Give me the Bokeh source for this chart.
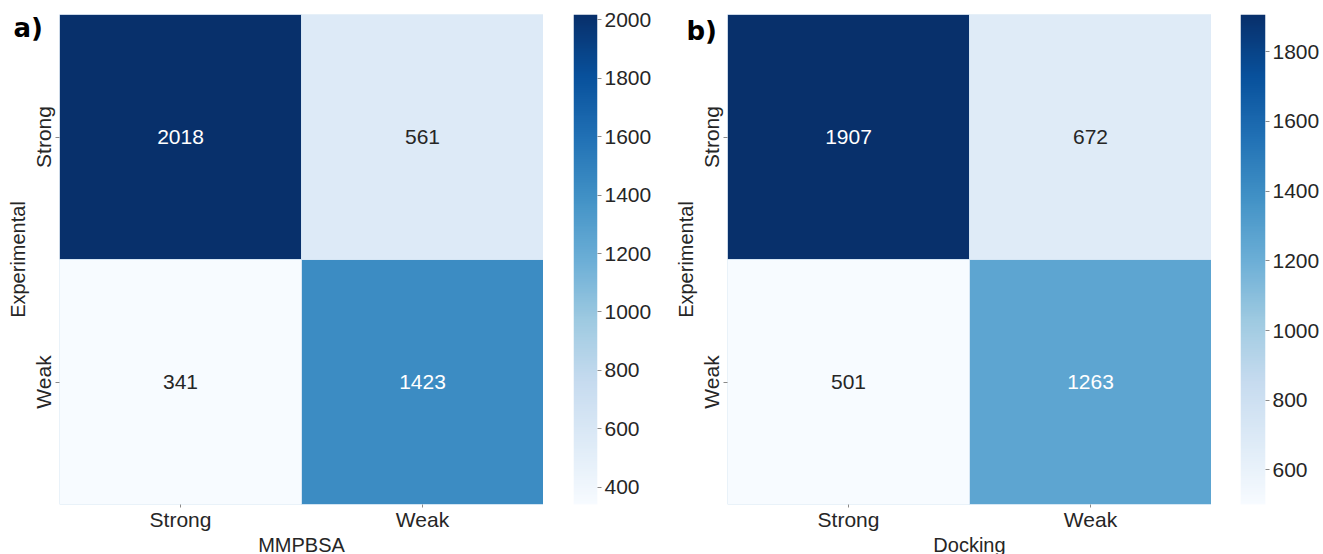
import numpy as np
from bokeh.plotting import figure
from bokeh.layouts import row
from bokeh.models import ColumnDataSource, LinearColorMapper, FixedTicker, Range1d, FactorRange, Title
from bokeh.palettes import Blues256
from bokeh.core.properties import value
from bokeh.embed import file_html
from bokeh.resources import INLINE

# ---- data ----
pred_cats = ["Strong", "Weak"]          # predicted (columns)
exp_cats = ["Strong", "Weak"]           # experimental (rows, top to bottom)
mmpbsa_values = [[2018, 561], [341, 1423]]
docking_values = [[1907, 672], [501, 1263]]
mmpbsa_ticks = [400, 600, 800, 1000, 1200, 1400, 1600, 1800, 2000]
docking_ticks = [600, 800, 1000, 1200, 1400, 1600, 1800]
panel_labels = ["a)", "b)"]
x_titles = ["MMPBSA", "Docking"]
y_title = "Experimental"

FONT = "Liberation Sans"
TXT = "#262626"
TICK = "#8a8a8a"
FS = "21px"
FS_LAB = "20px"
palette = list(reversed(Blues256))
H = 554
FH = 490


def style_axis(ax):
    ax.axis_line_color = None
    ax.major_tick_in = 0
    ax.major_tick_out = 4
    ax.major_tick_line_color = TICK
    ax.minor_tick_line_color = None
    ax.major_label_text_font = FONT
    ax.major_label_text_font_size = FS
    ax.major_label_text_color = TXT
    ax.axis_label_text_font = FONT
    ax.axis_label_text_font_size = FS_LAB
    ax.axis_label_text_color = TXT
    ax.axis_label_text_font_style = "normal"


def heatmap(values, xtitle, plabel, top, left, tag_offset, tag_standoff):
    vals = np.array(values)
    vmin, vmax = vals.min(), vals.max()
    mapper = LinearColorMapper(palette=palette, low=vmin, high=vmax)
    xs, ys, vs, tc = [], [], [], []
    for i, e in enumerate(exp_cats):
        for j, pc in enumerate(pred_cats):
            v = values[i][j]
            xs.append(pc)
            ys.append(e)
            vs.append(v)
            tc.append("white" if (v - vmin) / (vmax - vmin) > 0.5 else TXT)
    src = ColumnDataSource(dict(x=xs, y=ys, v=vs, t=[str(v) for v in vs], tc=tc))
    p = figure(x_range=FactorRange(*pred_cats), y_range=FactorRange(*reversed(exp_cats)),
               frame_width=484, frame_height=FH,
               min_border_left=left, min_border_right=0,
               min_border_top=top, min_border_bottom=H - FH - top,
               output_backend="svg", toolbar_location=None)
    p.rect(x="x", y="y", width=1, height=1, source=src,
           fill_color={"field": "v", "transform": mapper},
           line_color="#d6e6f4", line_width=1)
    p.text(x="x", y="y", text="t", source=src, text_color="tc",
           text_align="center", text_baseline="middle",
           text_font=value(FONT), text_font_size="21px")
    p.grid.visible = False
    p.outline_line_color = None
    p.xaxis.axis_label = xtitle
    p.yaxis.axis_label = y_title
    style_axis(p.xaxis[0])
    style_axis(p.yaxis[0])
    p.xaxis.major_tick_out = 3
    p.xaxis.major_label_standoff = 0
    p.xaxis.axis_label_standoff = 0
    p.yaxis.major_label_standoff = 1
    p.yaxis.axis_label_standoff = 0
    p.yaxis.major_label_orientation = "vertical"
    # panel tag drawn as a title whose negative standoff keeps it out of the layout
    p.title = Title(text=plabel, align="left", offset=tag_offset, standoff=tag_standoff,
                    vertical_align="bottom", text_font="DejaVu Sans",
                    text_font_style="bold", text_font_size="26px", text_color="black")
    return p, mapper, vmin, vmax


def cbar(mapper, vmin, vmax, ticks, top, left, fw, right):
    c = figure(x_range=Range1d(0, 1), y_range=Range1d(vmin, vmax),
               frame_width=fw, frame_height=FH,
               min_border_left=left, min_border_right=right,
               min_border_top=top, min_border_bottom=H - FH - top,
               y_axis_location="right",
               output_backend="svg", toolbar_location=None)
    ramp = np.linspace(vmin, vmax, 256).reshape(256, 1)
    c.image(image=[ramp], x=0, y=vmin, dw=1, dh=vmax - vmin, color_mapper=mapper)
    c.xaxis.visible = False
    c.grid.visible = False
    c.outline_line_color = None
    c.yaxis.ticker = FixedTicker(ticks=ticks)
    style_axis(c.yaxis[0])
    c.yaxis.major_label_standoff = 3
    return c


pa, ma, a0, a1 = heatmap(mmpbsa_values, x_titles[0], panel_labels[0], 14, 59, -46, -56)
ca = cbar(ma, a0, a1, mmpbsa_ticks, 14, 30, 24, 71)
pb, mb, b0, b1 = heatmap(docking_values, x_titles[1], panel_labels[1], 10, 59, -41, -62)
cb = cbar(mb, b0, b1, docking_ticks, 10, 29, 25, 58)

layout = row(pa, ca, pb, cb)
open("out.html", "w").write(file_html(layout, INLINE))
